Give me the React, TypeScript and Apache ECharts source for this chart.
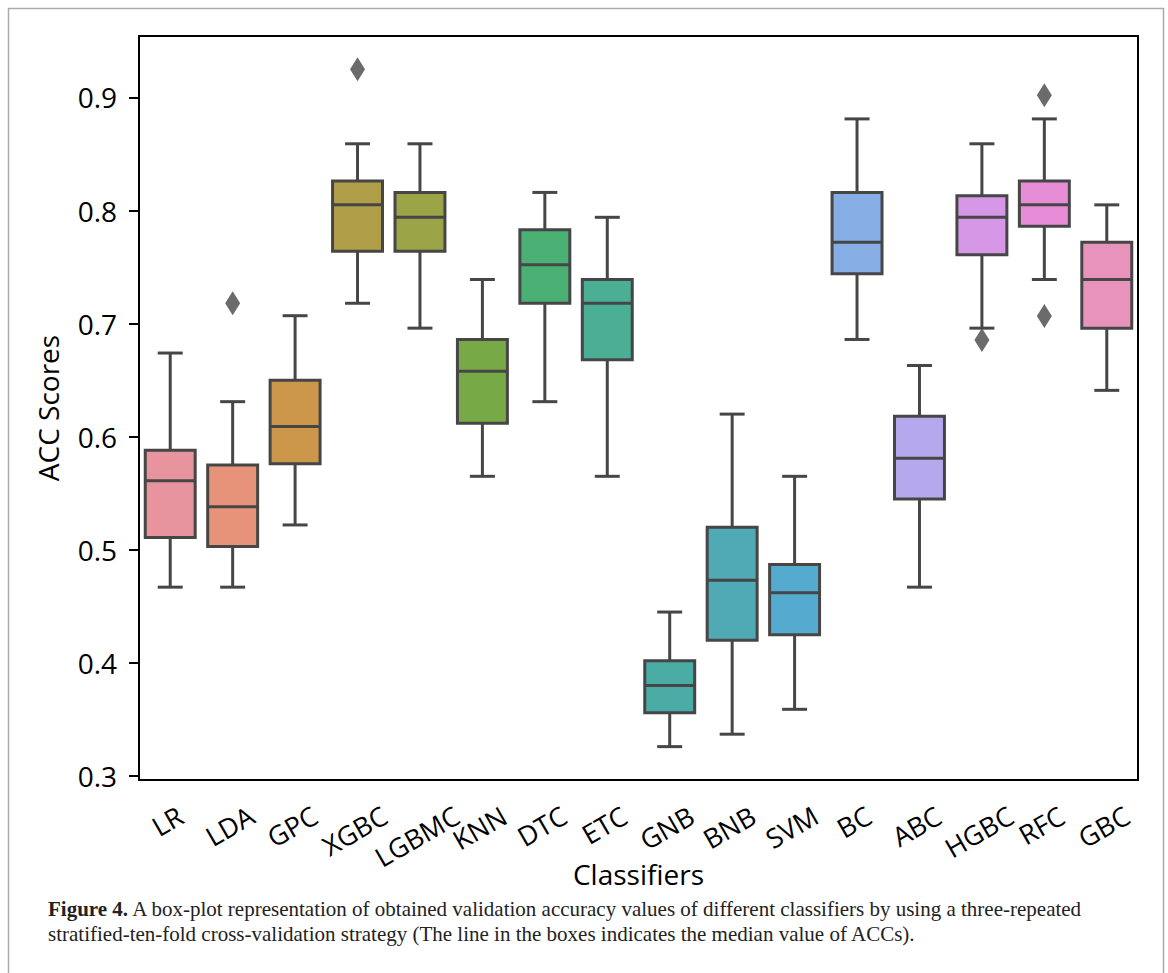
import React, { useEffect, useRef } from 'react';
import * as echarts from 'echarts';

const categories = ['LR', 'LDA', 'GPC', 'XGBC', 'LGBMC', 'KNN', 'DTC', 'ETC', 'GNB', 'BNB', 'SVM', 'BC', 'ABC', 'HGBC', 'RFC', 'GBC'];
const whiskerLow = [0.467, 0.467, 0.522, 0.718, 0.696, 0.565, 0.631, 0.565, 0.326, 0.337, 0.359, 0.686, 0.467, 0.696, 0.739, 0.641];
const q1 = [0.511, 0.503, 0.576, 0.764, 0.764, 0.612, 0.718, 0.668, 0.356, 0.420, 0.425, 0.744, 0.545, 0.761, 0.786, 0.696];
const median = [0.561, 0.538, 0.609, 0.805, 0.794, 0.658, 0.752, 0.718, 0.380, 0.473, 0.462, 0.772, 0.581, 0.794, 0.805, 0.739];
const q3 = [0.588, 0.575, 0.650, 0.826, 0.816, 0.686, 0.783, 0.739, 0.402, 0.520, 0.487, 0.816, 0.618, 0.813, 0.826, 0.772];
const whiskerHigh = [0.674, 0.631, 0.707, 0.859, 0.859, 0.739, 0.816, 0.794, 0.445, 0.620, 0.565, 0.881, 0.663, 0.859, 0.881, 0.805];
const outlierCategories = ['LDA', 'XGBC', 'HGBC', 'RFC', 'RFC'];
const outlierValues = [0.718, 0.925, 0.6855, 0.902, 0.7067];
const boxColors = ['#e8949f', '#e6937a', '#cc974b', '#b19e48', '#9ba447', '#77aa47', '#4bb073', '#4aaf95', '#4aaca5', '#4faab6', '#54abcf', '#86aee4', '#b5a8ec', '#d697e6', '#e78dd7', '#e793bb'];
const yTicks = [0.3, 0.4, 0.5, 0.6, 0.7, 0.8, 0.9];

const LABEL_FONT = "'Open Sans', 'Noto Sans', sans-serif";
const LABEL_SIZE = 27;
const Y_MIN = 0.2965;
const Y_MAX = 0.9543;

// approximate Open Sans advance widths (em) for upper-case letters
const GLYPH_EM: Record<string, number> = {
  A: 0.633, B: 0.648, C: 0.631, D: 0.722, E: 0.556, F: 0.516, G: 0.722, H: 0.738, K: 0.606,
  L: 0.521, M: 0.903, N: 0.778, P: 0.6, R: 0.62, S: 0.549, T: 0.556, V: 0.6, X: 0.58,
};

function textWidth(text: string, size: number): number {
  let em = 0;
  for (const ch of text) em += GLYPH_EM[ch] ?? 0.6;
  return em * size;
}

export default function App() {
  const ref = useRef<HTMLDivElement>(null);

  useEffect(() => {
    if (!ref.current) return;
    const chart = echarts.init(ref.current, undefined, { renderer: 'svg' });

    const labelWidths = categories.map((c) => textWidth(c, LABEL_SIZE));
    const boxData = categories.map((_, i) => [i, whiskerLow[i], q1[i], median[i], q3[i], whiskerHigh[i]]);
    const labelData = categories.map((_, i) => [i]);
    const outlierData = outlierCategories.map((c, i) => [categories.indexOf(c), outlierValues[i]]);
    const stroke = '#464646';
    const lw = 3;

    chart.setOption({
      animation: false,
      backgroundColor: '#fff',
      grid: {
        left: 139,
        right: 30,
        top: 36,
        bottom: 193,
        show: true,
        borderColor: '#000',
        borderWidth: 2,
        outerBoundsMode: 'none',
      },
      xAxis: {
        type: 'category',
        data: categories,
        boundaryGap: true,
        name: 'Classifiers',
        nameLocation: 'middle',
        nameGap: 80,
        nameMoveOverlap: false,
        nameTextStyle: { fontSize: 28, fontFamily: LABEL_FONT, color: '#000' },
        axisLine: { lineStyle: { color: '#000', width: 2 } },
        axisTick: { alignWithLabel: true, length: 10, lineStyle: { color: '#000', width: 2 } },
        axisLabel: { show: false },
        splitLine: { show: false },
      },
      yAxis: {
        type: 'value',
        min: Y_MIN,
        max: Y_MAX,
        name: 'ACC Scores',
        nameLocation: 'middle',
        nameGap: 77,
        nameTextStyle: { fontSize: 28, fontFamily: LABEL_FONT, color: '#000' },
        axisLine: { show: true, lineStyle: { color: '#000', width: 2 } },
        axisTick: { show: true, length: 10, lineStyle: { color: '#000', width: 2 }, customValues: yTicks },
        axisLabel: {
          customValues: yTicks,
          margin: 22,
          fontSize: 28,
          fontFamily: LABEL_FONT,
          color: '#000',
          formatter: (v: number) => v.toFixed(1),
        },
        splitLine: { show: false },
      },
      series: [
        {
          type: 'custom',
          data: boxData,
          encode: { x: 0, y: [1, 2, 3, 4, 5] },
          renderItem: (params: any, api: any) => {
            const i = api.value(0);
            const pLo = api.coord([i, api.value(1)]);
            const pA = api.coord([i, api.value(2)]);
            const pM = api.coord([i, api.value(3)]);
            const pB = api.coord([i, api.value(4)]);
            const pHi = api.coord([i, api.value(5)]);
            const band = api.size([1, 0])[0];
            const w = band * 0.8;
            const x = pLo[0];
            const ls = { stroke, lineWidth: lw };
            return {
              type: 'group',
              children: [
                { type: 'line', shape: { x1: x, y1: pLo[1], x2: x, y2: pA[1] }, style: ls },
                { type: 'line', shape: { x1: x, y1: pB[1], x2: x, y2: pHi[1] }, style: ls },
                { type: 'line', shape: { x1: x - w / 4, y1: pLo[1], x2: x + w / 4, y2: pLo[1] }, style: ls },
                { type: 'line', shape: { x1: x - w / 4, y1: pHi[1], x2: x + w / 4, y2: pHi[1] }, style: ls },
                {
                  type: 'rect',
                  shape: { x: x - w / 2, y: pB[1], width: w, height: pA[1] - pB[1] },
                  style: { fill: boxColors[params.dataIndex], stroke, lineWidth: lw },
                },
                { type: 'line', shape: { x1: x - w / 2, y1: pM[1], x2: x + w / 2, y2: pM[1] }, style: ls },
              ],
            };
          },
        },
        {
          type: 'custom',
          data: labelData,
          encode: { x: 0 },
          clip: false,
          silent: true,
          renderItem: (params: any, api: any) => {
            const i = api.value(0);
            const p = api.coord([i, Y_MIN]);
            const w = labelWidths[params.dataIndex];
            return {
              type: 'text',
              x: p[0] - 3,
              y: p[1] + 33 + 0.25 * w,
              rotation: Math.PI / 6,
              style: {
                text: categories[params.dataIndex],
                fontSize: LABEL_SIZE,
                fontFamily: LABEL_FONT,
                fill: '#000',
                align: 'center',
                verticalAlign: 'middle',
              },
            };
          },
        },
        {
          type: 'scatter',
          data: outlierData,
          symbol: 'diamond',
          symbolSize: [15, 24],
          itemStyle: { color: stroke },
          z: 5,
        },
      ],
      graphic: [
        {
          type: 'rect',
          silent: true,
          z: -10,
          shape: { x: 8.5, y: 8.5, width: 1155, height: 1000 },
          style: { fill: 'none', stroke: '#ababab', lineWidth: 1.5 },
        },
        {
          type: 'text',
          left: 48,
          top: 896,
          silent: true,
          style: {
            text:
              '{b|Figure 4.} A box-plot representation of obtained validation accuracy values of different classifiers by using a three-repeated\nstratified-ten-fold cross-validation strategy (The line in the boxes indicates the median value of ACCs).',
            fontFamily: "'Liberation Serif', 'DejaVu Serif', serif",
            fontSize: 21,
            lineHeight: 25,
            fill: '#222',
            rich: {
              b: {
                fontFamily: "'Liberation Serif', 'DejaVu Serif', serif",
                fontSize: 21,
                fontWeight: 'bold',
                lineHeight: 25,
                color: '#222',
              },
            },
          },
        },
      ],
    });

    return () => chart.dispose();
  }, []);

  return <div ref={ref} style={{ position: 'absolute', left: 0, top: 0, width: 1168, height: 973 }} />;
}
